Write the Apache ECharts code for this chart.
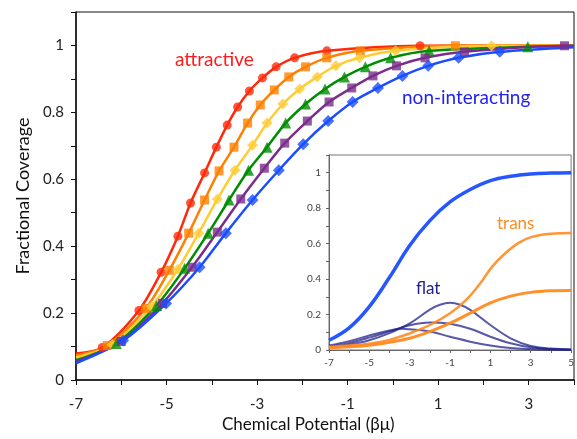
<!DOCTYPE html>
<html>
<head>
<meta charset="utf-8">
<script src="https://cdn.jsdelivr.net/npm/echarts@6/dist/echarts.min.js"></script>
<style>
  html, body { margin: 0; padding: 0; background: #fff; }
  #chart { width: 577px; height: 439px; }
</style>
</head>
<body>
<div id="chart"></div>
<script>
// main plot: simulated points (markers) for each interaction strength, [mu, coverage]
const redMarks = [[-6.42,0.097],[-5.61,0.208],[-5.12,0.322],[-4.75,0.430],[-4.47,0.529],[-4.16,0.619],[-3.90,0.696],[-3.66,0.762],[-3.43,0.816],[-3.17,0.864],[-2.88,0.903],[-2.58,0.936],[-2.17,0.963],[-1.46,0.984],[0.60,0.999]]
const orangeMarks = [[-6.31,0.103],[-5.46,0.214],[-4.94,0.328],[-4.51,0.439],[-4.16,0.538],[-3.84,0.625],[-3.51,0.696],[-3.21,0.768],[-2.93,0.822],[-2.62,0.867],[-2.30,0.906],[-1.93,0.936],[-1.46,0.963],[-0.72,0.984],[1.38,0.999]]
const yellowMarks = [[-6.20,0.106],[-5.33,0.220],[-4.75,0.331],[-4.29,0.439],[-3.88,0.540],[-3.49,0.627],[-3.10,0.702],[-2.78,0.768],[-2.43,0.825],[-2.06,0.870],[-1.67,0.906],[-1.26,0.939],[-0.74,0.963],[0.06,0.984],[2.18,0.999]]
const greenMarks = [[-6.11,0.109],[-5.22,0.223],[-4.60,0.334],[-4.08,0.439],[-3.62,0.538],[-3.19,0.627],[-2.78,0.696],[-2.37,0.768],[-1.93,0.825],[-1.50,0.870],[-1.07,0.906],[-0.61,0.936],[-0.05,0.963],[0.80,0.984],[2.98,0.996]]
const purpleMarks = [[-6.00,0.115],[-5.09,0.229],[-4.44,0.337],[-3.88,0.442],[-3.36,0.541],[-2.84,0.633],[-2.39,0.708],[-1.89,0.774],[-1.41,0.831],[-0.91,0.873],[-0.44,0.909],[0.08,0.939],[0.71,0.963],[1.58,0.981],[3.79,0.999]]
const blueMarks = [[-5.96,0.118],[-5.01,0.229],[-4.27,0.337],[-3.69,0.439],[-3.10,0.538],[-2.52,0.627],[-1.98,0.705],[-1.43,0.774],[-0.89,0.831],[-0.33,0.873],[0.21,0.909],[0.78,0.939],[1.45,0.963],[2.36,0.981]]

// where the fitted lines start (mu = -7) and end (mu = 4)
const lineStart = [0.079, 0.073, 0.067, 0.059, 0.055, 0.050]
const lineEnd = [1.0, 1.0, 0.999, 0.998, 0.999, 0.995]

// inset curves, [mu, fraction]
const insetTotal = [[-7,0.055],[-6,0.125],[-5,0.245],[-4,0.41],[-3,0.59],[-2,0.73],[-1,0.835],[0,0.905],[1,0.955],[2,0.98],[3,0.993],[4,0.998],[5,1.0]]
const transHigh = [[-7,0.019],[-6,0.026],[-5,0.036],[-4,0.057],[-3,0.094],[-2,0.141],[-1,0.207],[-0.2,0.283],[0.5,0.377],[1.1,0.472],[1.75,0.547],[2.4,0.604],[3.05,0.638],[4,0.656],[5,0.660]]
const transLow = [[-7,0.014],[-6,0.019],[-5,0.027],[-4,0.043],[-3,0.066],[-2,0.104],[-1,0.151],[0,0.208],[1,0.266],[2,0.304],[3,0.325],[4,0.334],[5,0.336]]
const flatA = [[-7,0.015],[-6,0.03],[-5,0.055],[-4,0.095],[-3,0.15],[-2,0.228],[-1.5,0.255],[-1,0.266],[-0.5,0.255],[0,0.226],[1,0.141],[2,0.066],[3,0.023],[4,0.008],[5,0.003]]
const flatB = [[-7,0.02],[-6,0.04],[-5,0.07],[-4,0.105],[-3,0.14],[-2,0.155],[-1,0.148],[0,0.12],[1,0.075],[2,0.038],[3,0.015],[4,0.005],[5,0.002]]
const flatC = [[-7,0.025],[-6,0.05],[-5,0.082],[-4,0.11],[-3.4,0.12],[-3,0.117],[-2,0.104],[-1,0.075],[0,0.047],[1,0.025],[2,0.011],[3,0.005],[4,0.002],[5,0.001]]

const colors = ['#ff2a0a', '#ff8000', '#ffcc33', '#008c00', '#7b2d8b', '#1a4dff']
const symbols = ['circle', 'rect', 'diamond', 'triangle', 'rect', 'diamond']
const sizes = [9, 9, 11, 11, 9, 12]
const marks = [redMarks, orangeMarks, yellowMarks, greenMarks, purpleMarks, blueMarks]

const font = 'Lato, "Open Sans", sans-serif'

const chart = echarts.init(document.getElementById('chart'))

const series = []
marks.forEach((m, i) => {
  series.push({
    type: 'line',
    xAxisIndex: 0,
    yAxisIndex: 0,
    data: [[-7, lineStart[i]], ...m, [4, lineEnd[i]]],
    smooth: 0.3,
    showSymbol: false,
    lineStyle: { color: colors[i], width: 2.5 },
    z: 2
  })
  series.push({
    type: 'scatter',
    xAxisIndex: 0,
    yAxisIndex: 0,
    data: m,
    symbol: symbols[i],
    symbolSize: sizes[i],
    itemStyle: { color: colors[i] },
    z: 3
  })
})

// inset (its grid background is white, series sit above it)
const insetLine = (data, color, width, opacity) => ({
  type: 'line',
  xAxisIndex: 1,
  yAxisIndex: 1,
  data,
  smooth: 0.4,
  showSymbol: false,
  lineStyle: { color, width, opacity },
  z: 4
})
series.push(insetLine(flatA, '#20208c', 2, 0.75))
series.push(insetLine(flatB, '#20208c', 2, 0.75))
series.push(insetLine(flatC, '#20208c', 2, 0.75))
series.push(insetLine(transHigh, '#ff8a1f', 2.5, 0.9))
series.push(insetLine(transLow, '#ff8a1f', 3, 0.95))
series.push(insetLine(insetTotal, '#1a4dff', 3.5, 0.95))

const option = {
  animation: false,
  textStyle: { fontFamily: font },
  grid: [
    { left: 76, top: 12, width: 508, height: 368, show: true, borderColor: '#111', borderWidth: 1 },
    { left: 329, top: 155, width: 245, height: 195, show: true, backgroundColor: '#fff', borderColor: '#777', borderWidth: 1 }
  ],
  xAxis: [
    {
      type: 'value', gridIndex: 0, min: -7, max: 4, interval: 1,
      splitLine: { show: false },
      axisLine: { onZero: false, lineStyle: { color: '#111', width: 1.5 } },
      axisTick: { length: 5, lineStyle: { color: '#111' } },
      axisLabel: {
        margin: 17, fontSize: 15, color: '#222', fontFamily: font,
        formatter: v => (Math.abs(Math.round(v)) % 2 === 1 ? String(Math.round(v)) : '')
      }
    },
    {
      type: 'value', gridIndex: 1, min: -7, max: 5, interval: 1,
      splitLine: { show: false },
      axisLine: { onZero: false, lineStyle: { color: '#666', width: 1 } },
      axisTick: { length: 3, lineStyle: { color: '#666' } },
      axisLabel: {
        margin: 8, fontSize: 10, color: '#444', fontFamily: font,
        formatter: v => (Math.abs(Math.round(v)) % 2 === 1 ? String(Math.round(v)) : '')
      }
    }
  ],
  yAxis: [
    {
      type: 'value', gridIndex: 0, min: 0, max: 1.1, interval: 0.1,
      splitLine: { show: false },
      axisLine: { onZero: false, lineStyle: { color: '#111', width: 1.5 } },
      axisTick: { length: 5, lineStyle: { color: '#111' } },
      axisLabel: {
        margin: 12, fontSize: 15, color: '#222', fontFamily: font,
        formatter: v => {
          const k = Math.round(v * 10)
          return k % 2 === 0 && k <= 10 ? String(k / 10) : ''
        }
      },
      name: 'Fractional Coverage',
      nameLocation: 'middle',
      nameGap: 42,
      nameTextStyle: { fontSize: 18, color: '#111', fontFamily: font }
    },
    {
      type: 'value', gridIndex: 1, min: 0, max: 1.1, interval: 0.1,
      splitLine: { show: false },
      axisLine: { onZero: false, lineStyle: { color: '#666', width: 1 } },
      axisTick: { length: 3, lineStyle: { color: '#666' } },
      axisLabel: {
        margin: 8, fontSize: 10, color: '#444', fontFamily: font,
        formatter: v => {
          const k = Math.round(v * 10)
          return k % 2 === 0 && k <= 10 ? String(k / 10) : ''
        }
      }
    }
  ],
  graphic: [
    { type: 'text', left: 175, top: 50, style: { text: 'attractive', fill: '#ff1a1a', font: '19px ' + font } },
    { type: 'text', left: 402, top: 88, style: { text: 'non-interacting', fill: '#1f1ff0', font: '19px ' + font } },
    { type: 'text', left: 497, top: 215, z: 10, style: { text: 'trans', fill: '#ff8a1f', font: '17px ' + font } },
    { type: 'text', left: 416, top: 280, z: 10, style: { text: 'flat', fill: '#20208c', font: '17px ' + font } },
    { type: 'text', left: 222, top: 416, style: { text: 'Chemical Potential (βμ)', fill: '#111', font: '17px ' + font } }
  ],
  series
}

chart.setOption(option)
</script>
</body>
</html>
